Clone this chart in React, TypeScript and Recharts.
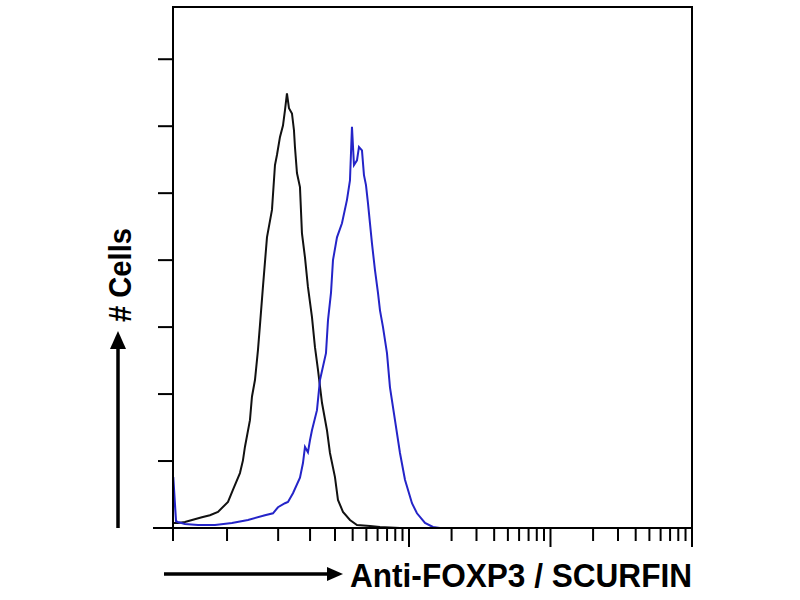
import React from 'react';
import { LineChart, Line, XAxis, YAxis, ReferenceArea } from 'recharts';

// isotype control (black) — fluorescence intensity / cell count
const controlX = [
  2.15, 2.33, 2.61, 2.93, 3.44, 3.92, 4.47, 5.26, 5.7, 6.39, 6.71, 6.93, 7.52, 7.77, 8.16, 8.57,
  8.85, 9.29, 9.92, 10.76, 11.3, 11.67, 12.26, 12.87, 13.3, 13.73, 14.19, 14.9, 15.39, 15.64,
  16.16, 16.97, 17.53, 18.41, 19.32, 20.63, 21.66, 22.75, 24.28, 26.33, 27.65, 29.99, 31.49,
  34.17, 38.28, 42.91, 53.02, 62.39, 86.38, 10000,
];
const controlY = [
  0.75, 0.75, 0.9, 1.2, 1.6, 1.9, 2.4, 3.9, 5.7, 8.2, 10.1, 12.1, 16.1, 19.6, 22.1, 26.6,
  30.3, 36.0, 43.4, 47.5, 54.2, 55.7, 58.4, 60.1, 62.4, 64.9, 62.7, 61.9, 59.4, 56.9,
  53.0, 50.9, 44.0, 40.4, 36.0, 31.5, 27.0, 23.6, 18.7, 14.6, 11.2, 7.6, 4.2,
  2.4, 1.2, 0.45, 0.3, 0.15, 0, 0,
];

// anti-FOXP3 stained (blue)
const foxp3X = [
  2.15, 2.16, 2.26, 2.33, 2.61, 3.23, 4.26, 5.61, 7.28, 9.6, 10.94, 11.87, 13.3, 13.96, 15.14,
  16.97, 17.82, 18.41, 19.32, 19.97, 20.63, 22.38, 23.5, 25.91, 26.77, 28.11, 29.04, 30.99,
  33.61, 36.46, 38.28, 39.55, 40.86, 42.91, 44.33, 46.54, 48.08, 49.68, 51.31, 53.02, 54.76,
  57.51, 60.39, 62.39, 65.52, 69.91, 73.4, 79.63, 86.38, 93.7, 105.0, 113.9, 129.8, 147.8,
  165.6, 10000,
];
const foxp3Y = [
  0, 7.6, 1.0, 0.9, 0.6, 0.45, 0.45, 0.75, 1.2, 1.9, 2.2, 3.1, 3.7, 3.9, 5.2,
  7.5, 9.7, 12.1, 11.3, 13.1, 14.6, 17.6, 22.1, 26.1, 31.0, 35.1, 40.0, 43.4,
  45.5, 49.0, 51.9, 59.9, 54.2, 54.9, 56.9, 56.4, 52.7, 51.2, 48.5, 45.5, 42.5,
  38.5, 35.1, 32.5, 30.0, 26.1, 21.0, 16.1, 11.2, 7.2, 3.7, 2.2, 0.75, 0.15,
  0, 0,
];

const xTicks = [
  2.15, 5.18, 11.9, 20, 30, 40, 50, 60, 70, 80, 90, 100,
  200, 300, 400, 500, 600, 700, 800, 900, 1000,
  2000, 3000, 4000, 5000, 6000, 7000, 8000, 9000, 10000,
];
const xMajor = [100, 1000, 10000];
const yTicks = [0, 10, 20, 30, 40, 50, 60, 70];

const controlData = controlX.map((x, i) => ({ x, y: controlY[i] }));
const foxp3Data = foxp3X.map((x, i) => ({ x, y: foxp3Y[i] }));

const XTick = (props: any) => {
  const { x, y, payload } = props;
  const len = xMajor.includes(payload.value) ? 19 : 13;
  return <line x1={x} x2={x} y1={y} y2={y + len} stroke="#000" strokeWidth={2} />;
};

const YTick = (props: any) => {
  const { x, y, payload } = props;
  const len = payload.value === 0 ? 20 : 15;
  return <line x1={x} x2={x - len} y1={y} y2={y} stroke="#000" strokeWidth={2} />;
};

const font = '"Liberation Sans", Arial, sans-serif';

export default function App() {
  return (
    <div style={{ position: 'absolute', left: 0, top: 0, width: 800, height: 600, background: '#fff' }}>
      <LineChart width={800} height={600} margin={{ top: 7, right: 108, left: 113, bottom: 42 }}>
        <XAxis
          dataKey="x"
          type="number"
          scale="log"
          domain={[2.15, 10000]}
          allowDataOverflow
          ticks={xTicks}
          interval={0}
          height={30}
          tickSize={0}
          tickMargin={0}
          tickLine={false}
          tick={<XTick />}
          axisLine={{ stroke: '#000', strokeWidth: 2 }}
        />
        <YAxis
          type="number"
          domain={[0, 77.8]}
          allowDataOverflow
          ticks={yTicks}
          interval={0}
          width={60}
          tickSize={0}
          tickMargin={0}
          tickLine={false}
          tick={<YTick />}
          axisLine={{ stroke: '#000', strokeWidth: 2 }}
        />
        <ReferenceArea x1={2.15} x2={10000} y1={0} y2={77.8} fill="none" stroke="#000" strokeWidth={2} />
        <Line
          data={controlData}
          dataKey="y"
          type="linear"
          stroke="#111"
          strokeWidth={2}
          dot={false}
          isAnimationActive={false}
        />
        <Line
          data={foxp3Data}
          dataKey="y"
          type="linear"
          stroke="#2424c8"
          strokeWidth={2}
          dot={false}
          isAnimationActive={false}
        />
      </LineChart>
      <svg width={800} height={600} style={{ position: 'absolute', left: 0, top: 0, pointerEvents: 'none' }}>
        <line x1={118} x2={118} y1={528} y2={346} stroke="#000" strokeWidth={3.5} />
        <polygon points="118,331 110,349 126,349" fill="#000" />
        <text
          x={131}
          y={275}
          transform="rotate(-90 131 275)"
          textAnchor="middle"
          fontFamily={font}
          fontWeight="bold"
          fontSize={32}
          textLength={94}
          lengthAdjust="spacingAndGlyphs"
        >
          # Cells
        </text>
        <line x1={164} x2={330} y1={574} y2={574} stroke="#000" strokeWidth={3.5} />
        <polygon points="343,574 327,567 327,581" fill="#000" />
        <text
          x={350}
          y={587}
          fontFamily={font}
          fontWeight="bold"
          fontSize={33}
          textLength={342}
          lengthAdjust="spacingAndGlyphs"
        >
          Anti-FOXP3 / SCURFIN
        </text>
      </svg>
    </div>
  );
}
